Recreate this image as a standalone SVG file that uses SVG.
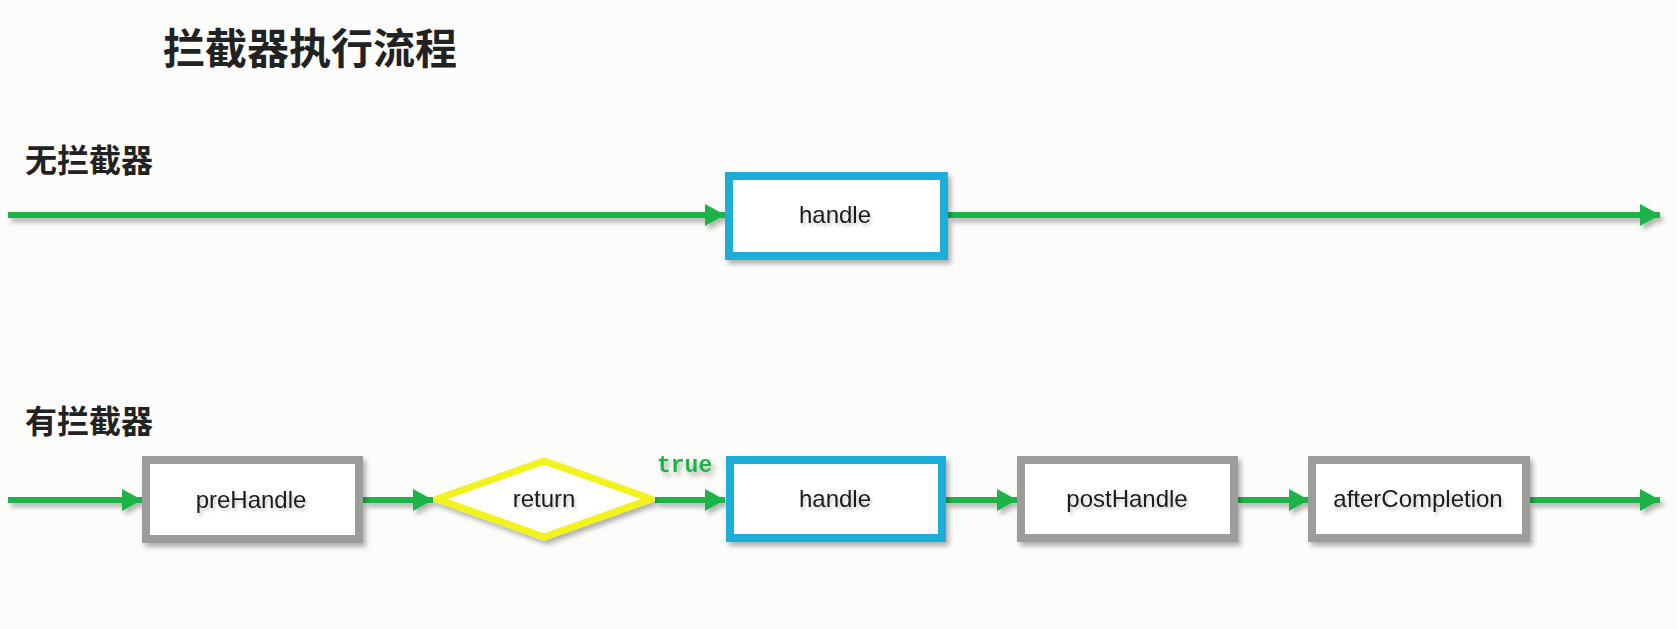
<svg xmlns="http://www.w3.org/2000/svg" width="1677" height="629" viewBox="0 0 1677 629">
<style>
.bg{fill:#fcfdfa}
.h1{font-family:"Noto Sans CJK SC","Noto Sans",sans-serif;font-weight:bold;fill:#222}
.lbl{font-family:"Liberation Sans","Noto Sans",sans-serif;font-size:24px;fill:#1a1a1a;text-anchor:middle}
.box{fill:#fff;stroke-width:8}
.gray{stroke:#9c9c9a}
.blue{stroke:#1caed9}
.dia{fill:#fff;stroke:#f4f21c;stroke-width:7;stroke-linejoin:round}
.conn{stroke:#1fb34a;stroke-width:6;fill:none;marker-end:url(#ah)}
.true{font-family:"Liberation Mono",monospace;font-weight:bold;font-size:23px;fill:#1fb34a}
</style>
<defs>
<marker id="ah" markerUnits="userSpaceOnUse" markerWidth="20" markerHeight="22" refX="20" refY="11" orient="auto">
<path d="M0,0 L20,11 L0,22 z" fill="#1fb34a"/>
</marker>
<filter id="sh" x="-10%" y="-20%" width="130%" height="150%">
<feDropShadow dx="3" dy="4" stdDeviation="2.5" flood-color="#000" flood-opacity="0.3"/>
</filter>
<filter id="tsh" x="-10%" y="-30%" width="130%" height="170%">
<feDropShadow dx="2" dy="3" stdDeviation="1.5" flood-color="#000" flood-opacity="0.2"/>
</filter>
</defs>
<rect class="bg" x="0" y="0" width="1677" height="629"/>
<text class="h1" x="163" y="64" font-size="42">拦截器执行流程</text>
<text class="h1" x="25" y="172" font-size="32">无拦截器</text>
<text class="h1" x="25" y="433" font-size="32">有拦截器</text>

<g id="connectors" filter="url(#sh)">
<line class="conn" x1="8" y1="215" x2="725" y2="215"/>
<line class="conn" x1="948" y1="215" x2="1660" y2="215"/>
<line class="conn" x1="8" y1="500" x2="142" y2="500"/>
<line class="conn" x1="363" y1="500" x2="433" y2="500"/>
<line class="conn" x1="655" y1="500" x2="725" y2="500"/>
<line class="conn" x1="946" y1="500" x2="1017" y2="500"/>
<line class="conn" x1="1238" y1="500" x2="1309" y2="500"/>
<line class="conn" x1="1530" y1="500" x2="1660" y2="500"/>
<text class="true" x="657" y="472" filter="none">true</text>
</g>

<g id="handle-top">
<rect class="box blue" x="729" y="176" width="215" height="80" filter="url(#sh)"/>
<text class="lbl" x="835" y="223" filter="url(#tsh)">handle</text>
</g>

<g id="preHandle">
<rect class="box gray" x="146" y="460" width="213" height="79" filter="url(#sh)"/>
<text class="lbl" x="251" y="508" filter="url(#tsh)">preHandle</text>
</g>

<g id="return">
<polygon class="dia" points="437,499 544,461 651,499 544,537" filter="url(#sh)"/>
<text class="lbl" x="544" y="507" filter="url(#tsh)">return</text>
</g>

<g id="handle">
<rect class="box blue" x="730" y="460" width="212" height="78" filter="url(#sh)"/>
<text class="lbl" x="835" y="507" filter="url(#tsh)">handle</text>
</g>

<g id="postHandle">
<rect class="box gray" x="1021" y="460" width="213" height="78" filter="url(#sh)"/>
<text class="lbl" x="1127" y="507" filter="url(#tsh)">postHandle</text>
</g>

<g id="afterCompletion">
<rect class="box gray" x="1312" y="460" width="214" height="78" filter="url(#sh)"/>
<text class="lbl" x="1418" y="507" filter="url(#tsh)">afterCompletion</text>
</g>
</svg>
